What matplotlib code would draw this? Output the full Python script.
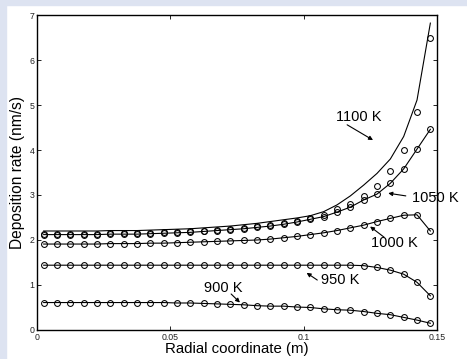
import numpy as np
import matplotlib.pyplot as plt
from matplotlib.patches import Rectangle

plt.rcParams['font.family'] = ['Liberation Sans', 'DejaVu Sans']

# radial positions of the sample points (m)
r = [0.0025, 0.0075, 0.0125, 0.0175, 0.0225, 0.0275, 0.0325, 0.0375, 0.0425, 0.0475,
     0.0525, 0.0575, 0.0625, 0.0675, 0.0725, 0.0775, 0.0825, 0.0875, 0.0925, 0.0975,
     0.1025, 0.1075, 0.1125, 0.1175, 0.1225, 0.1275, 0.1325, 0.1375, 0.1425, 0.1475]

# deposition rate (nm/s) per wafer temperature
rate_900 = [0.61, 0.61, 0.61, 0.61, 0.61, 0.61, 0.61, 0.61, 0.61, 0.61,
            0.60, 0.60, 0.59, 0.58, 0.57, 0.56, 0.54, 0.53, 0.53, 0.51,
            0.50, 0.47, 0.45, 0.44, 0.41, 0.37, 0.34, 0.28, 0.22, 0.15]
rate_950 = [1.44, 1.44, 1.44, 1.44, 1.44, 1.44, 1.44, 1.44, 1.44, 1.44,
            1.44, 1.44, 1.44, 1.44, 1.44, 1.44, 1.44, 1.44, 1.44, 1.44,
            1.44, 1.44, 1.44, 1.44, 1.43, 1.39, 1.33, 1.24, 1.06, 0.76]
rate_1000 = [1.91, 1.91, 1.91, 1.91, 1.91, 1.92, 1.92, 1.92, 1.93, 1.93,
             1.94, 1.95, 1.96, 1.97, 1.98, 1.99, 2.00, 2.02, 2.05, 2.08,
             2.12, 2.16, 2.21, 2.27, 2.33, 2.41, 2.48, 2.55, 2.56, 2.20]
rate_1050 = [2.12, 2.12, 2.12, 2.12, 2.12, 2.13, 2.13, 2.13, 2.14, 2.15,
             2.16, 2.17, 2.19, 2.21, 2.23, 2.25, 2.28, 2.31, 2.35, 2.40,
             2.46, 2.52, 2.62, 2.73, 2.89, 3.02, 3.26, 3.58, 4.02, 4.46]
rate_1100 = [2.14, 2.14, 2.14, 2.14, 2.14, 2.15, 2.15, 2.15, 2.16, 2.17,
             2.18, 2.19, 2.21, 2.23, 2.25, 2.27, 2.30, 2.34, 2.38, 2.43,
             2.49, 2.55, 2.68, 2.81, 2.98, 3.21, 3.53, 4.01, 4.85, 6.50]
# model curve for 1100 K
model_1100 = [2.20, 2.20, 2.20, 2.20, 2.20, 2.21, 2.21, 2.21, 2.22, 2.23,
              2.24, 2.25, 2.27, 2.29, 2.31, 2.34, 2.37, 2.41, 2.45, 2.49,
              2.54, 2.63, 2.78, 2.98, 3.22, 3.48, 3.80, 4.30, 5.11, 6.82]

x_ticks = [0, 0.05, 0.1, 0.15]
x_ticklabels = ['0', '0.05', '0.1', '0.15']
y_ticks = [0, 1, 2, 3, 4, 5, 6, 7]

fig = plt.figure(figsize=(4.67, 3.59), dpi=100, facecolor='white')
# light border strips along the top and left edge
fig.patches.append(Rectangle((0, 0.986), 1, 0.014, transform=fig.transFigure,
                             color='#dde3f1', zorder=-1))
fig.patches.append(Rectangle((0, 0), 0.012, 1, transform=fig.transFigure,
                             color='#dde3f1', zorder=-1))

ax = fig.add_axes([0.0792, 0.0808, 0.8566, 0.8774])

mk = dict(marker='o', ms=4.2, mfc='none', mec='k', mew=0.75, ls='none')
for vals in [rate_900, rate_950, rate_1000, rate_1050]:
    ax.plot(r, vals, color='k', lw=0.8)
    ax.plot(r, vals, **mk)
ax.plot(r, model_1100, color='k', lw=0.8)
ax.plot(r, rate_1100, **mk)

ax.set_xlim(0, 0.15)
ax.set_ylim(0, 7)
ax.set_xticks(x_ticks)
ax.set_xticklabels(x_ticklabels)
ax.set_yticks(y_ticks)
ax.tick_params(direction='in', length=3, width=0.6, top=True, right=True,
               labelsize=6.3, labelcolor='#222222', pad=2)
for s in ax.spines.values():
    s.set_linewidth(1.0)

ax.set_xlabel('Radial coordinate (m)', fontsize=10.8, labelpad=0)
ax.set_ylabel('Deposition rate (nm/s)', fontsize=11.2, labelpad=3)

arrow = dict(arrowstyle='-|>', lw=0.8, color='k', mutation_scale=6,
             shrinkA=0, shrinkB=0)
labels = [
    ('1100 K', (0.1208, 4.74), (0.1163, 4.56), (0.1260, 4.22)),
    ('1050 K', (0.1493, 2.93), (0.1383, 2.98), (0.1317, 3.04)),
    ('1000 K', (0.1339, 1.93), (0.1302, 2.06), (0.1249, 2.30)),
    ('950 K', (0.1138, 1.12), (0.1051, 1.11), (0.1011, 1.27)),
    ('900 K', (0.0698, 0.944), (0.0728, 0.80), (0.0761, 0.61)),
]
for txt, pos, tail, head in labels:
    ax.text(pos[0], pos[1], txt, fontsize=10.5, ha='center', va='center')
    ax.annotate('', xy=head, xytext=tail, arrowprops=arrow)

fig.savefig('out.png', dpi=100, facecolor=fig.get_facecolor())
